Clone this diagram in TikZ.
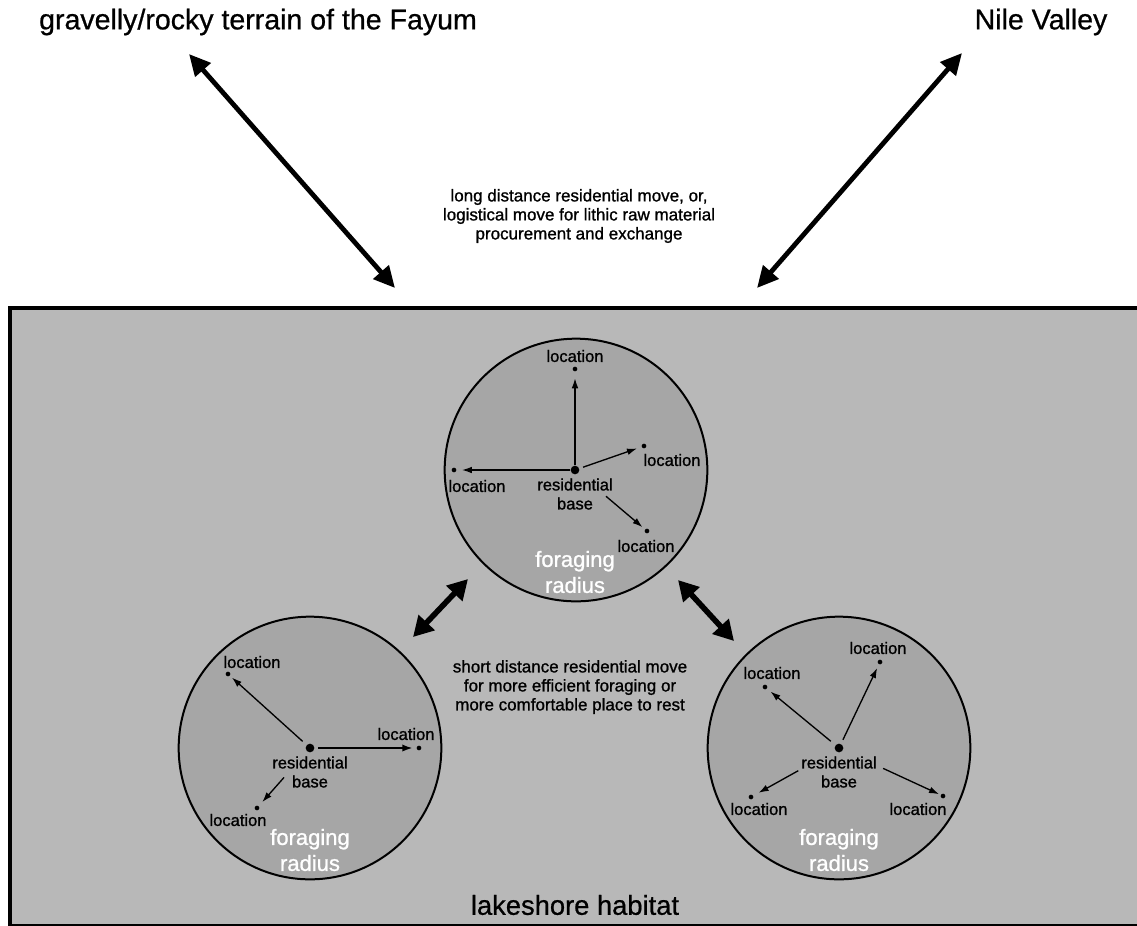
\documentclass[tikz,border=0pt]{standalone}
\usepackage{fontspec}
\setmainfont{Liberation Sans}[FakeBold=0.7]
\newfontfamily\smallheavy{Liberation Sans}[FakeBold=1.1]
\usetikzlibrary{arrows.meta}
\definecolor{bggray}{RGB}{184,184,184}
\definecolor{circgray}{RGB}{166,166,166}
\tikzset{
  titletext/.style={inner sep=0pt, font=\fontsize{21.4}{25}\selectfont},
  smalltext/.style={inner sep=0pt, align=center, font=\smallheavy\fontsize{12.75}{14.25}\selectfont},
  loctext/.style={inner sep=0pt, align=center, font=\smallheavy\fontsize{12.4}{14.25}\selectfont},
  fortext/.style={inner sep=0pt, align=center, text=white, font=\smallheavy\fontsize{16.5}{19.5}\selectfont},
  laketext/.style={inner sep=0pt, font=\fontsize{20.5}{24}\selectfont},
  radiuscirc/.style={circle, draw=black, line width=1.5pt, fill=circgray, minimum size=197pt, inner sep=0pt},
  basedot/.style={circle, fill=black, minimum size=6.5pt, inner sep=0pt},
  locdot/.style={circle, fill=black, minimum size=3.5pt, inner sep=0pt},
  thinarrow/.style={line width=1pt, -{Latex[length=7.5pt,width=5pt]}},
  medarrow/.style={line width=1.6pt, -{Latex[length=8pt,width=5.5pt]}},
  bigarrow/.style={line width=4.2pt, {Triangle[length=15pt,width=16pt]}-{Triangle[length=15pt,width=16pt]}},
  longarrow/.style={line width=3.6pt, {Triangle[length=16pt,width=15pt]}-{Triangle[length=16pt,width=15pt]}},
}
\begin{document}
\begin{tikzpicture}[x=0.75pt,y=-0.75pt]
\useasboundingbox (0,0) rectangle (1137,925);
% habitat rectangle
\draw[line width=3.2pt, fill=bggray] (10,308) rectangle (1160,926);

% titles
\node[titletext] (fayum) at (258,22) {gravelly/rocky terrain of the Fayum};
\node[titletext] (nile) at (1041,22) {Nile Valley};
\node[smalltext] (longtxt) at (579,216) {long distance residential move, or,\\logistical move for lithic raw material\\procurement and exchange};
\coordinate (fa1) at (189,54);
\coordinate (fa2) at (395,288);
\coordinate (ni1) at (962,53);
\coordinate (ni2) at (757,288);
\draw[longarrow] (fa1) -- (fa2);
\draw[longarrow] (ni1) -- (ni2);

% circles
\node[radiuscirc] (C1) at (576,470) {};
\node[radiuscirc] (C2) at (310,748) {};
\node[radiuscirc] (C3) at (839,748) {};

% ---- top circle
\node[basedot] (B1) at (575,470) {};
\node[locdot] (L1a) at (575,369) {};
\node[locdot] (L1b) at (644,446) {};
\node[locdot] (L1c) at (454,470) {};
\node[locdot] (L1d) at (647,531) {};
\node[loctext] (T1a) at (575,356) {location};
\node[loctext] (T1b) at (672,460) {location};
\node[loctext] (T1c) at (477,486) {location};
\node[loctext] (T1d) at (646,546) {location};
\node[loctext] (R1) at (575,494) {residential\\base};
\node[fortext] (F1) at (575,572) {foraging\\radius};
\draw[thinarrow, shorten >=5pt] (B1) -- (L1a);
\draw[thinarrow, shorten <=3pt, shorten >=3.6pt] (B1) -- (L1b);
\draw[thinarrow, shorten >=4pt] (B1) -- (L1c);
\draw[thinarrow, shorten <=27pt, shorten >=2.5pt] (B1) -- (L1d);

% ---- bottom-left circle
\node[basedot] (B2) at (310,748) {};
\node[locdot] (L2a) at (228,674) {};
\node[locdot] (L2b) at (419,748) {};
\node[locdot] (L2c) at (257,808) {};
\node[loctext] (T2a) at (252,662) {location};
\node[loctext] (T2b) at (406,734) {location};
\node[loctext] (T2c) at (238,820) {location};
\node[loctext] (R2) at (310,772) {residential\\base};
\node[fortext] (F2) at (310,850) {foraging\\radius};
\draw[thinarrow, shorten <=4pt, shorten >=2pt] (B2) -- (L2a);
\draw[medarrow, shorten <=2.6pt, shorten >=2.6pt] (B2) -- (L2b);
\draw[thinarrow, shorten <=26pt, shorten >=4pt] (B2) -- (L2c);

% ---- bottom-right circle
\node[basedot] (B3) at (839,748) {};
\node[locdot] (L3a) at (765,687) {};
\node[locdot] (L3b) at (880,662) {};
\node[locdot] (L3c) at (751,797) {};
\node[locdot] (L3d) at (943,796) {};
\node[loctext] (T3a) at (772,673) {location};
\node[loctext] (T3b) at (878,648) {location};
\node[loctext] (T3c) at (759,809) {location};
\node[loctext] (T3d) at (918,809) {location};
\node[loctext] (R3) at (839,772) {residential\\base};
\node[fortext] (F3) at (839,850) {foraging\\radius};
\draw[thinarrow, shorten <=4.5pt, shorten >=3.4pt] (B3) -- (L3a);
\draw[thinarrow, shorten <=3.4pt, shorten >=3pt] (B3) -- (L3b);
\draw[thinarrow, shorten <=31.5pt, shorten >=4.5pt] (B3) -- (L3c);
\draw[thinarrow, shorten <=33pt, shorten >=1.3pt] (B3) -- (L3d);

% short moves
\coordinate (sl1) at (468,579);
\coordinate (sl2) at (413,637);
\coordinate (sr1) at (678,580);
\coordinate (sr2) at (734,641);
\draw[bigarrow] (sl1) -- (sl2);
\draw[bigarrow] (sr1) -- (sr2);
\node[smalltext] (shorttxt) at (570,687) {short distance residential move\\for more efficient foraging or\\more comfortable place to rest};

\node[laketext] (lake) at (575,905) {lakeshore habitat};
\end{tikzpicture}
\end{document}
